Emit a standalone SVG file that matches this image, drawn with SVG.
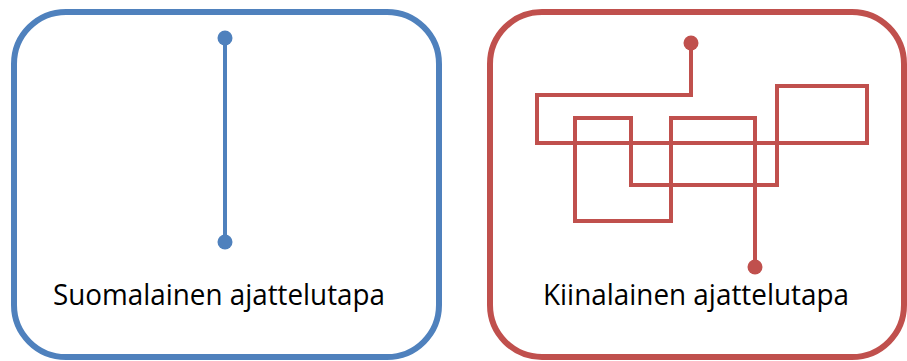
<svg xmlns="http://www.w3.org/2000/svg" width="907" height="361" viewBox="0 0 907 361">
  <style>
    .frame { fill: #ffffff; stroke-width: 6; }
    .blue { stroke: #4F81BD; }
    .red { stroke: #C0504D; }
    .route { fill: none; stroke-width: 4; stroke-linejoin: miter; }
    .label { font-family: "Open Sans", "Noto Sans", "Liberation Sans", sans-serif; font-size: 30px; fill: #000000; }
  </style>
  <rect width="907" height="361" fill="#ffffff"/>

  <g id="finnish">
    <rect class="frame blue" x="14" y="12" width="425" height="345" rx="52" ry="52"/>
    <text class="label" x="53" y="305" textLength="332" lengthAdjust="spacingAndGlyphs">Suomalainen ajattelutapa</text>
  </g>

  <g id="chinese">
    <rect class="frame red" x="490" y="12" width="414" height="345" rx="52" ry="52"/>
    <text class="label" x="543" y="305" textLength="306" lengthAdjust="spacingAndGlyphs">Kiinalainen ajattelutapa</text>
  </g>

  <g id="connectors">
    <line class="route blue" x1="225" y1="38" x2="225" y2="242"/>
    <circle cx="225" cy="38" r="7.5" fill="#4F81BD"/>
    <circle cx="225" cy="242" r="7.5" fill="#4F81BD"/>

    <path class="route red" d="M691 43 V95 H537 V143 H867 V86 H777 V185 H631 V118 H575 V221 H671 V118 H755 V267"/>
    <circle cx="691" cy="43" r="7.5" fill="#C0504D"/>
    <circle cx="755" cy="267" r="7.5" fill="#C0504D"/>
  </g>
</svg>
